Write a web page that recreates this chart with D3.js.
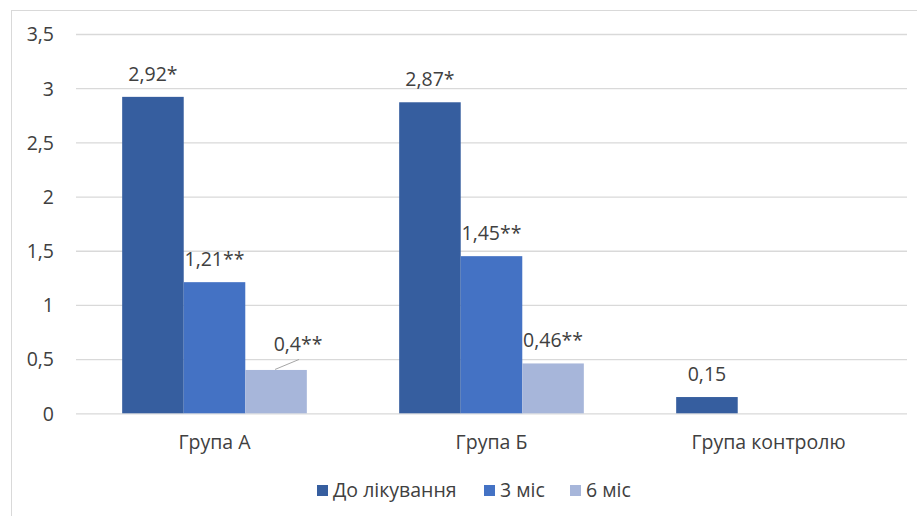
<!DOCTYPE html>
<html>
<head>
<meta charset="utf-8">
<script src="https://cdn.jsdelivr.net/npm/d3@7/dist/d3.min.js"></script>
<style>
  html, body { margin: 0; padding: 0; background: #fff; }
  svg { display: block; }
  text { font-family: "Open Sans", Lato, sans-serif; fill: #404040; }
</style>
</head>
<body>
<svg id="chart" width="917" height="516"></svg>
<script>
// Groups along the x axis
const categories = ["Група А", "Група Б", "Група контролю"];
// Series (one per time point)
const seriesNames = ["До лікування", "3 міс", "6 міс"];
const beforeTreatment = [2.92, 2.87, 0.15];
const after3m = [1.21, 1.45, null];
const after6m = [0.4, 0.46, null];
// Value labels as printed above the bars
const beforeLabels = ["2,92*", "2,87*", "0,15"];
const after3mLabels = ["1,21**", "1,45**", null];
const after6mLabels = ["0,4**", "0,46**", null];
// Y axis ticks
const yTicks = [0, 0.5, 1, 1.5, 2, 2.5, 3, 3.5];
const yTickLabels = ["0", "0,5", "1", "1,5", "2", "2,5", "3", "3,5"];

const colors = ["#365E9F", "#4472C4", "#A7B6DA"];
const seriesValues = [beforeTreatment, after3m, after6m];
const seriesLabels = [beforeLabels, after3mLabels, after6mLabels];

const FONT = "19.5px";
const svg = d3.select("#chart");
const W = 917, H = 516;
const plot = { left: 76, right: 907, top: 34, bottom: 413.3 };

// Outer chart frame (runs off the right and bottom edge)
svg.append("rect")
  .attr("x", 11.5).attr("y", 10.5)
  .attr("width", W + 10).attr("height", H + 10)
  .attr("fill", "none").attr("stroke", "#d9d9d9").attr("stroke-width", 1);

const y = d3.scaleLinear().domain([0, 3.5]).range([plot.bottom, plot.top]);
const x0 = d3.scaleBand().domain(categories).range([plot.left, plot.right]).padding(0);
const groupW = x0.bandwidth();
const gap = groupW * 0.75 / 4.5;  // half of the 150% gap on each side
const x1 = d3.scaleBand().domain(seriesNames).range([gap, groupW - gap]).padding(0);

// Gridlines and tick labels
const yAxis = d3.axisLeft(y).tickValues(yTicks)
  .tickSize(-(plot.right - plot.left))
  .tickFormat((d, i) => yTickLabels[i]);
const gy = svg.append("g").attr("transform", `translate(${plot.left},0)`).call(yAxis);
gy.select(".domain").remove();
gy.selectAll(".tick line").attr("stroke", "#d9d9d9").attr("stroke-width", 1.3);
gy.selectAll(".tick text")
  .attr("x", -22).attr("dy", "0.35em")
  .style("font-size", FONT).style("fill", "#404040")
  .style("font-family", "'Open Sans', Lato, sans-serif");

// Bars
const rows = [];
categories.forEach((c, ci) => {
  seriesNames.forEach((s, si) => {
    const v = seriesValues[si][ci];
    if (v !== null && v !== undefined) {
      rows.push({ c, s, si, v, label: seriesLabels[si][ci] });
    }
  });
});

svg.append("g").selectAll("rect").data(rows).join("rect")
  .attr("x", d => x0(d.c) + x1(d.s))
  .attr("y", d => y(d.v))
  .attr("width", x1.bandwidth())
  .attr("height", d => y(0) - y(d.v))
  .attr("fill", d => colors[d.si]);

// Value labels; the small 6-month bar of group A has its label lifted with a leader line
const labelG = svg.append("g");
rows.forEach(d => {
  const cx = x0(d.c) + x1(d.s) + x1.bandwidth() / 2;
  const top = y(d.v);
  const moved = d.c === "Група А" && d.si === 2;
  if (moved) {
    labelG.append("line")
      .attr("x1", cx - 1).attr("y1", top - 0.5)
      .attr("x2", cx + 23).attr("y2", top - 10.5)
      .attr("stroke", "#a6a6a6").attr("stroke-width", 1);
    labelG.append("text").attr("x", cx + 22).attr("y", top - 19)
      .attr("text-anchor", "middle").style("font-size", FONT).text(d.label);
  } else {
    labelG.append("text").attr("x", cx).attr("y", top - 16)
      .attr("text-anchor", "middle").style("font-size", FONT).text(d.label);
  }
});

// Category labels
svg.append("g").selectAll("text").data(categories).join("text")
  .attr("x", d => x0(d) + groupW / 2)
  .attr("y", 449)
  .attr("text-anchor", "middle")
  .style("font-size", FONT)
  .text(d => d);

// Legend
const legendItems = [
  { name: seriesNames[0], sx: 317, tx: 333 },
  { name: seriesNames[1], sx: 484, tx: 500 },
  { name: seriesNames[2], sx: 570, tx: 586 }
];
const lg = svg.append("g");
legendItems.forEach((it, i) => {
  lg.append("rect").attr("x", it.sx).attr("y", 485).attr("width", 11).attr("height", 11)
    .attr("fill", colors[i]);
  lg.append("text").attr("x", it.tx).attr("y", 497)
    .style("font-size", FONT).text(it.name);
});
</script>
</body>
</html>
